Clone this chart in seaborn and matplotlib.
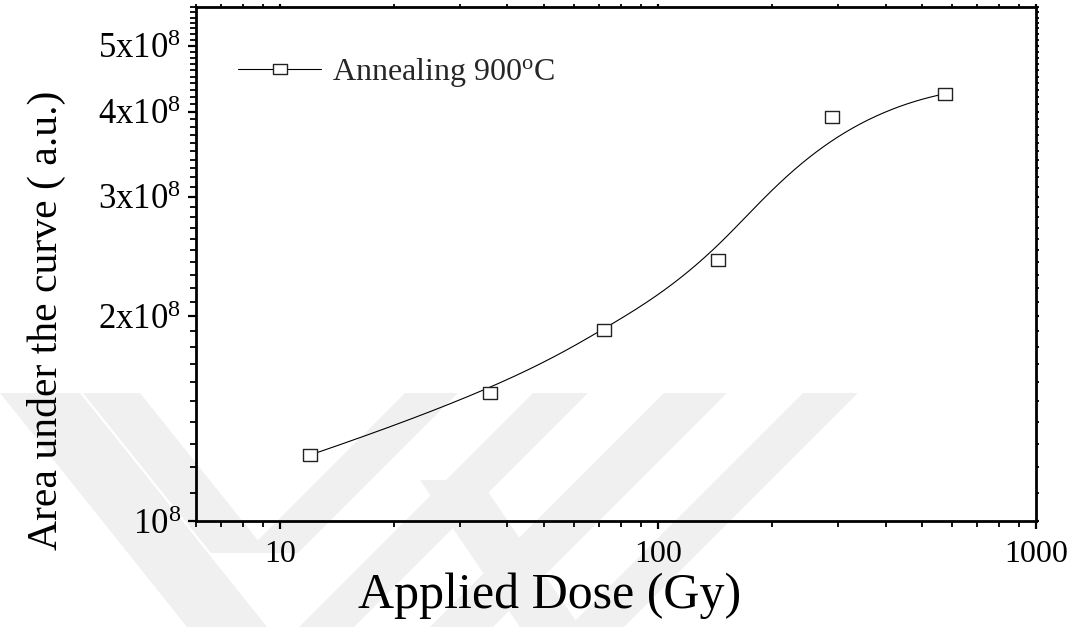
import numpy as np
import pandas as pd
import matplotlib
matplotlib.use("Agg")
import matplotlib.pyplot as plt
import seaborn as sns
from matplotlib.lines import Line2D
from matplotlib.patches import Polygon
from matplotlib.ticker import FixedLocator, NullFormatter, LogLocator

# ---------------- data ----------------
dose_gy = [12, 36, 72, 144, 288, 576]
area_au = [1.25e8, 1.54e8, 1.91e8, 2.42e8, 3.93e8, 4.25e8]
series_label = r"Annealing 900$^{\mathrm{o}}$C"
x_tick_values = [10, 100, 1000]
x_tick_labels = ["10", "100", "1000"]
y_tick_values = [1e8, 2e8, 3e8, 4e8, 5e8]
y_tick_labels = [r"$10^{8}$", r"$2\mathrm{x}10^{8}$", r"$3\mathrm{x}10^{8}$",
                 r"$4\mathrm{x}10^{8}$", r"$5\mathrm{x}10^{8}$"]
x_label = "Applied Dose (Gy)"
y_label = "Area under the curve ( a.u.)"

df = pd.DataFrame({"dose": dose_gy, "area": area_au})

# B-spline connection line (data points used as control points, drawn in
# log-log screen space, clamped so it starts/ends at the first/last point)
def clamped_bspline(P, npts=500, k=3):
    m = len(P)
    knots = np.concatenate([np.zeros(k), np.linspace(0, 1, m - k + 1), np.ones(k)])
    t = np.linspace(0, 1, npts)
    t[-1] = 1 - 1e-12

    def N(i, p, tt):
        if p == 0:
            return ((knots[i] <= tt) & (tt < knots[i + 1])).astype(float)
        a = 0.0
        d1 = knots[i + p] - knots[i]
        if d1 > 0:
            a = (tt - knots[i]) / d1 * N(i, p - 1, tt)
        b = 0.0
        d2 = knots[i + p + 1] - knots[i + 1]
        if d2 > 0:
            b = (knots[i + p + 1] - tt) / d2 * N(i + 1, p - 1, tt)
        return a + b

    B = np.column_stack([N(i, k, t) for i in range(m)])
    return B @ P

ctrl = np.column_stack([np.log10(df["dose"].to_numpy(float)),
                        np.log10(df["area"].to_numpy(float))])
curve = clamped_bspline(ctrl)
fit_df = pd.DataFrame({"dose": 10 ** curve[:, 0], "area": 10 ** curve[:, 1]})

# ---------------- style ----------------
sns.set_theme(style="ticks")
plt.rcParams["font.family"] = ["Liberation Serif", "DejaVu Serif"]
plt.rcParams["mathtext.fontset"] = "custom"
plt.rcParams["mathtext.rm"] = "Liberation Serif"
plt.rcParams["mathtext.it"] = "Liberation Serif:italic"
plt.rcParams["mathtext.bf"] = "Liberation Serif:bold"

W, H = 1080, 627
fig = plt.figure(figsize=(W / 100, H / 100), dpi=100)
fig.patch.set_facecolor("white")

# faint background watermark (light grey chevron bands)
def band(xt0, xt1, xb0, xb1, yt=393, yb=627):
    pts = [(xt0, yt), (xt1, yt), (xb1, yb), (xb0, yb)]
    pts = [(px / W, 1 - py / H) for px, py in pts]
    fig.patches.append(Polygon(pts, closed=True, transform=fig.transFigure,
                               facecolor="#f0f0f0", edgecolor="none",
                               zorder=-10))

band(0, 80, 187, 267)                 # outer "\"
band(533, 588, 299, 354)              # outer "/"
band(83, 140, 211, 268, yb=553)       # inner "\"
band(405, 458, 245, 298, yb=553)      # inner "/"
band(664, 727, 430, 493)              # "/"
band(803, 858, 569, 624)              # "/"
band(420, 480, 520, 580, yt=480)      # lower "\"

ax = fig.add_axes([196 / W, 1 - 521 / H, (1036 - 196) / W, (521 - 7) / H])
ax.set_facecolor("none")
ax.set_xscale("log")
ax.set_yscale("log")

rect_marker = [(-1, -0.76), (1, -0.76), (1, 0.76), (-1, 0.76), (-1, -0.76)]

sns.lineplot(data=fit_df, x="dose", y="area", ax=ax, color="black",
             linewidth=0.8, zorder=3, legend=False, sort=False,
             estimator=None)
sns.scatterplot(data=df, x="dose", y="area", ax=ax, marker=rect_marker,
                s=110, facecolor="white", edgecolor="#222222", linewidth=1.0,
                zorder=4, legend=False)

ax.set_xlim(6.0, 1000)
ax.set_ylim(1e8, 5.7e8)

ax.xaxis.set_major_locator(FixedLocator(x_tick_values))
ax.set_xticklabels(x_tick_labels)
ax.xaxis.set_minor_locator(LogLocator(base=10, subs=np.arange(2, 10)))
ax.xaxis.set_minor_formatter(NullFormatter())

ax.yaxis.set_major_locator(FixedLocator(y_tick_values))
ax.set_yticklabels(y_tick_labels)
minor_y = [v for v in np.arange(1.1e8, 5.71e8, 1e7)
           if not any(abs(v - m) < 1e6 for m in y_tick_values)]
ax.yaxis.set_minor_locator(FixedLocator(minor_y))
ax.yaxis.set_minor_formatter(NullFormatter())

for sp in ax.spines.values():
    sp.set_visible(True)
    sp.set_linewidth(2.0)
    sp.set_color("black")

ax.tick_params(axis="both", which="major", direction="out", length=6,
               width=1.6, color="black", labelsize=23, labelcolor="black")
ax.tick_params(axis="y", which="major", labelsize=25)
ax.tick_params(axis="both", which="minor", direction="out", length=4,
               width=1.3, color="black")
ax.tick_params(axis="x", which="major", pad=8)
ax.tick_params(axis="y", which="major", pad=5)
ax.tick_params(top=True, right=True, which="both")
for t in ax.xaxis.get_ticklines(minor=False)[1::2] + ax.xaxis.get_ticklines(minor=True)[1::2]:
    t.set_markersize(2)
for t in ax.yaxis.get_ticklines(minor=False)[1::2] + ax.yaxis.get_ticklines(minor=True)[1::2]:
    t.set_markersize(2)

ax.set_xlabel(x_label, fontsize=36, color="black")
ax.set_ylabel(y_label, fontsize=30, color="black")
ax.xaxis.set_label_coords(0.421, -0.1)
ax.yaxis.set_label_coords(-0.155, 0.39)

handle = Line2D([], [], color="black", linewidth=0.8, marker=rect_marker,
                markersize=10, markerfacecolor="white",
                markeredgecolor="#222222", markeredgewidth=1.0)
ax.legend([handle], [series_label], loc="upper left",
          bbox_to_anchor=(0.05, 0.905), frameon=False, fontsize=23,
          handlelength=2.6, handletextpad=0.35, borderaxespad=0,
          borderpad=0)

fig.savefig("out.png", dpi=100, facecolor="white")
